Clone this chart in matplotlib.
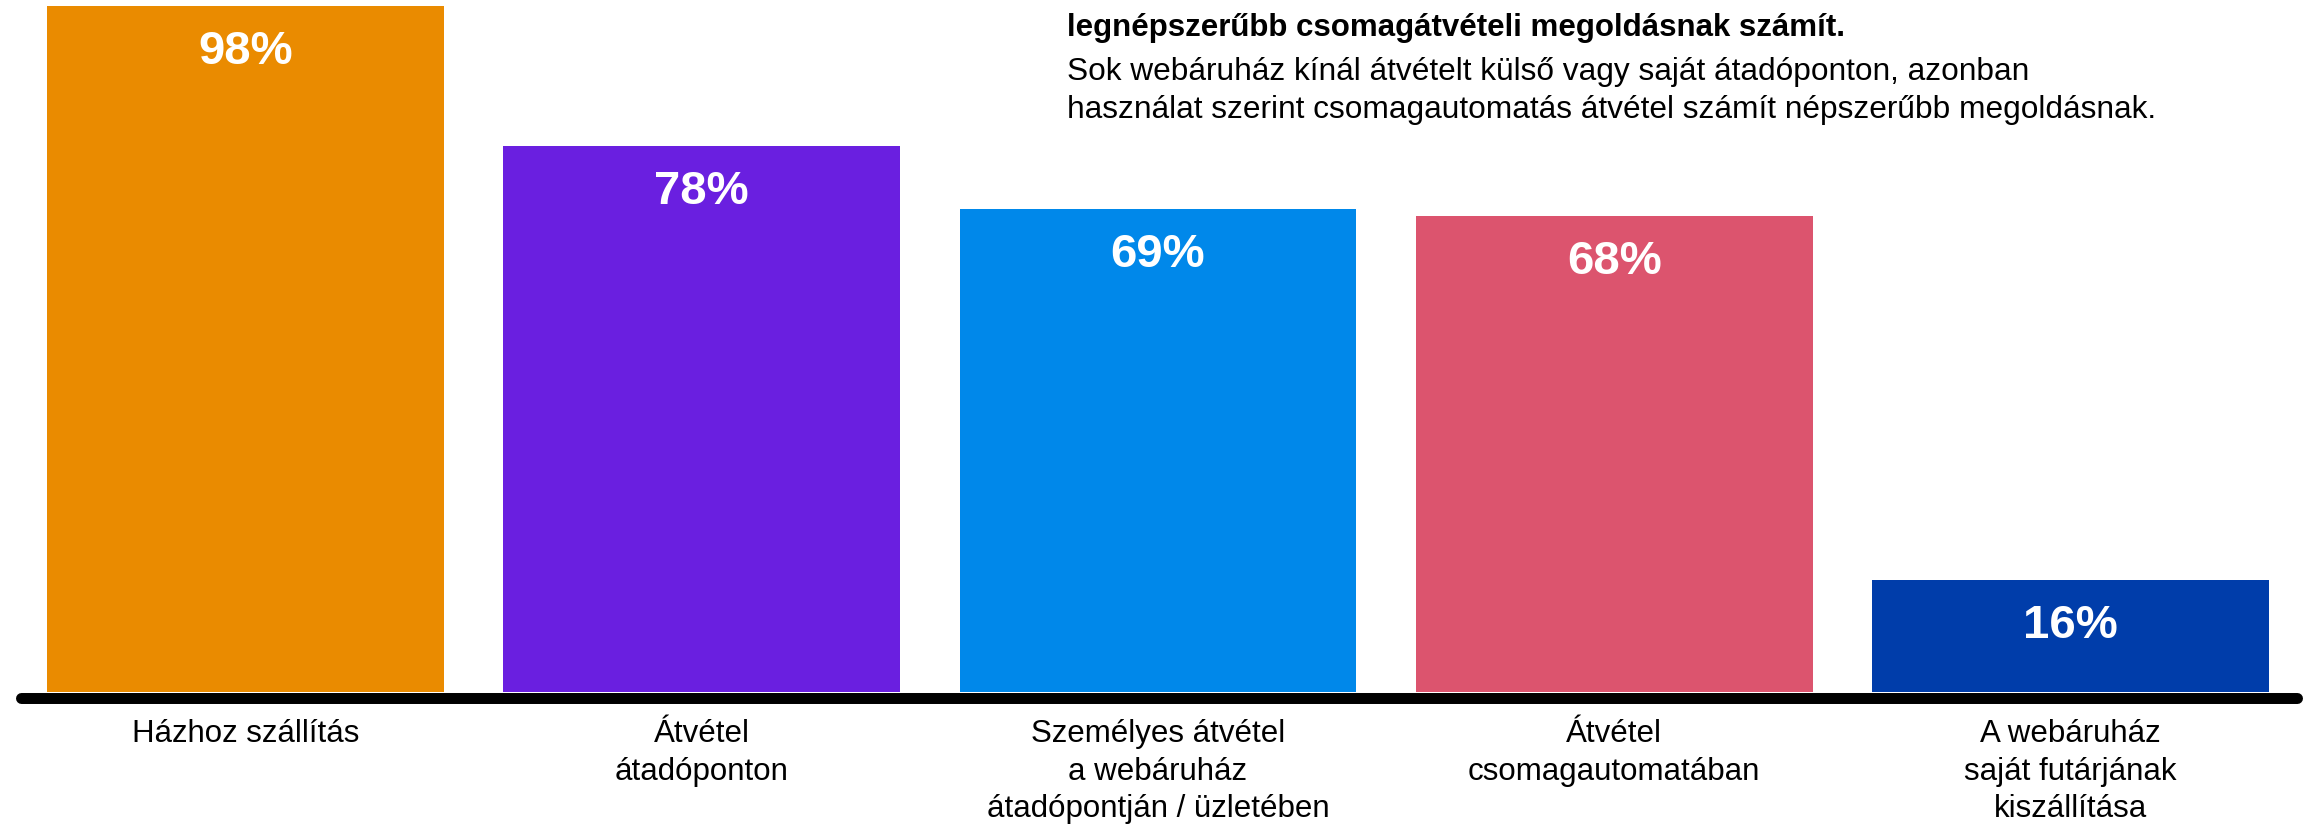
import matplotlib
matplotlib.use("Agg")
import matplotlib.pyplot as plt

plt.rcParams['font.family'] = ['Liberation Sans', 'DejaVu Sans']

# data
categories = [
    "Házhoz szállítás",
    "Átvétel\nátadóponton",
    "Személyes átvétel\na webáruház\nátadópontján / üzletében",
    "Átvétel\ncsomagautomatában",
    "A webáruház\nsaját futárjának\nkiszállítása",
]
values = [98, 78, 69, 68, 16]
colors = ["#EA8B00", "#6A1FE0", "#0088EA", "#DC546E", "#003DAA"]

title_bold = "legnépszerűbb csomagátvételi megoldásnak számít."
subtitle = ["Sok webáruház kínál átvételt külső vagy saját átadóponton, azonban",
            "használat szerint csomagautomatás átvétel számít népszerűbb megoldásnak."]

fig = plt.figure(figsize=(23.08, 8.25), dpi=100)
ax = fig.add_axes([0, 133 / 825, 1, 700 / 825])

x = list(range(len(values)))
ax.bar(x, values, width=0.87, color=colors, zorder=2)

ax.set_xlim(-0.538, 4.5205)
ax.set_ylim(0, 100)
ax.axis('off')

# thick baseline with rounded ends
ax.plot([-0.493, 4.497], [-0.79, -0.79], color='black', lw=7.9,
        solid_capstyle='round', clip_on=False, zorder=3)

for xi, v in zip(x, values):
    ax.annotate(f"{v}%", xy=(xi, v), xytext=(0, -42), textcoords='offset points',
                ha='center', va='baseline', color='white', fontsize=34,
                fontweight='bold', zorder=4)

for xi, lab in zip(x, categories):
    ax.annotate(lab, xy=(xi, 0), xytext=(0, -19.5), textcoords='offset points',
                ha='center', va='top', multialignment='center',
                fontsize=22.5, linespacing=1.33, annotation_clip=False)

fig.text(1067 / 2308, 1 - 36 / 825, title_bold, fontsize=22.5, fontweight='bold',
         ha='left', va='baseline')
fig.text(1067 / 2308, 1 - 80 / 825, subtitle[0], fontsize=22.8, ha='left', va='baseline')
fig.text(1067 / 2308, 1 - 118 / 825, subtitle[1], fontsize=22.8, ha='left', va='baseline')

fig.savefig("out.png", dpi=100)
